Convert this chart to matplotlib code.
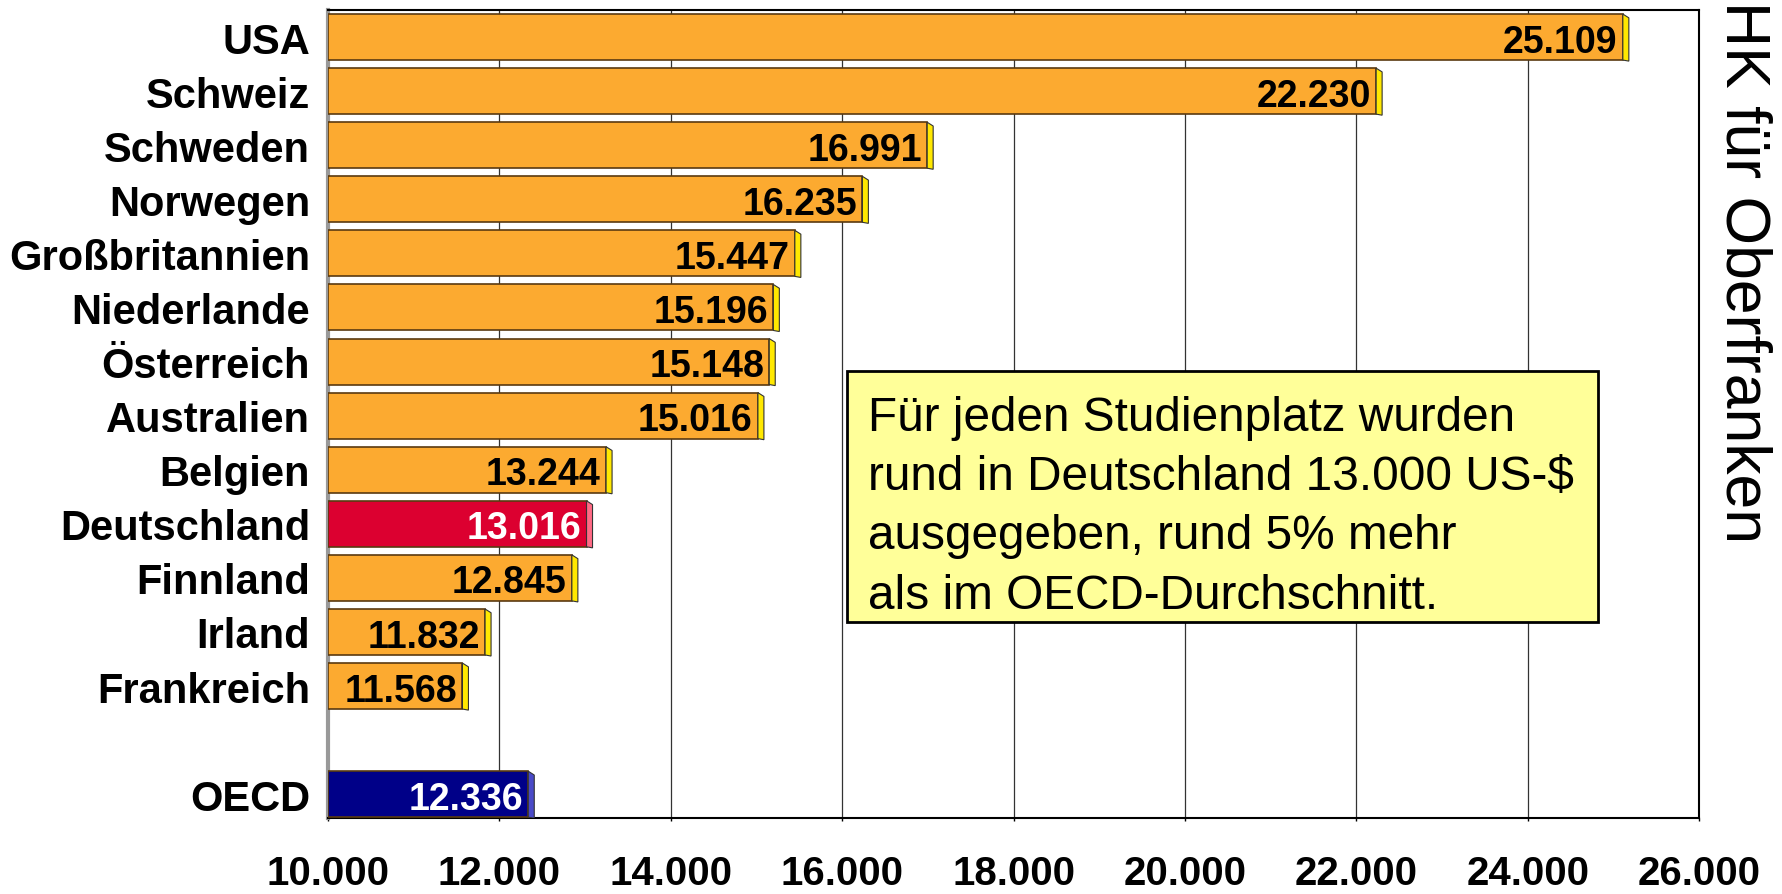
import numpy as np
import matplotlib.pyplot as plt
from matplotlib.patches import Polygon, Rectangle

plt.rcParams.update({
    "font.family": ["Liberation Sans", "DejaVu Sans"],
})

countries = ["USA", "Schweiz", "Schweden", "Norwegen", "Großbritannien",
             "Niederlande", "Österreich", "Australien", "Belgien",
             "Deutschland", "Finnland", "Irland", "Frankreich", "", "OECD"]
values = [25109, 22230, 16991, 16235, 15447, 15196, 15148, 15016,
          13244, 13016, 12845, 11832, 11568, None, 12336]
xticks = [10000, 12000, 14000, 16000, 18000, 20000, 22000, 24000, 26000]

note_lines = ["Für jeden Studienplatz wurden",
              "rund in Deutschland 13.000 US-$",
              "ausgegeben, rund 5% mehr",
              "als im OECD-Durchschnitt."]

orange, orange_side = "#FCAA30", "#FFE800"
red, red_side = "#DC0030", "#FF6A85"
navy, navy_side = "#000088", "#4A4AC8"

def fmt(v):
    return f"{v:,}".replace(",", ".")

fig = plt.figure(figsize=(17.83, 8.95), dpi=100)
ax = fig.add_axes([0.184, 0.0849, 0.769, 0.9028])

xmin = 10000
h = 0.85
depth = 70
for i, (name, v) in enumerate(zip(countries, values)):
    if v is None:
        continue
    if name == "Deutschland":
        face, side, tcol = red, red_side, "white"
    elif name == "OECD":
        face, side, tcol = navy, navy_side, "white"
    else:
        face, side, tcol = orange, orange_side, "black"
    ax.barh(i, v - xmin, left=xmin, height=h, color=face,
            edgecolor="#5A3A10", linewidth=1.2, zorder=3)
    top, bot = i - h / 2, i + h / 2
    ax.add_patch(Polygon([(v, top), (v + depth, top + 0.07),
                          (v + depth, bot + 0.02), (v, bot)],
                         closed=True, facecolor=side, edgecolor="#333333",
                         linewidth=0.8, zorder=3))
    ax.text(v - 60, i + 0.27, fmt(v), ha="right", va="baseline",
            fontsize=27, fontweight="bold", color=tcol, zorder=4)

ax.set_xlim(10000, 26000)
ax.set_ylim(14.44, -0.5)
ax.set_xticks(xticks)
ax.set_xticklabels([fmt(t) for t in xticks], fontsize=29, fontweight="bold")
ax.set_yticks(range(len(countries)))
ax.set_yticklabels(countries, fontsize=30, fontweight="bold")
ax.tick_params(axis="y", length=0, pad=13)
ax.tick_params(axis="x", direction="out", length=2, width=1, pad=24)

ax.grid(axis="x", color="#333333", linewidth=0.9, zorder=0)
ax.set_axisbelow(True)
for s in ["top", "right", "bottom"]:
    ax.spines[s].set_color("black")
    ax.spines[s].set_linewidth(1.5)
ax.spines["left"].set_color("#999999")
ax.spines["left"].set_linewidth(3)

# Hinweisbox
fig.patches.append(Rectangle((0.475, 0.3039), 0.421, 0.2805,
                             transform=fig.transFigure, facecolor="#FFFF99",
                             edgecolor="black", linewidth=2, zorder=5))
baselines = [0.5184, 0.4525, 0.3866, 0.3196]
for line, yb in zip(note_lines, baselines):
    fig.text(0.487, yb, line, fontsize=34.4, va="baseline", ha="left", zorder=6)

fig.text(0.961, 0.999, "HK für Oberfranken", rotation=-90, fontsize=45,
         ha="left", va="top")

fig.savefig("out.png", dpi=100)
